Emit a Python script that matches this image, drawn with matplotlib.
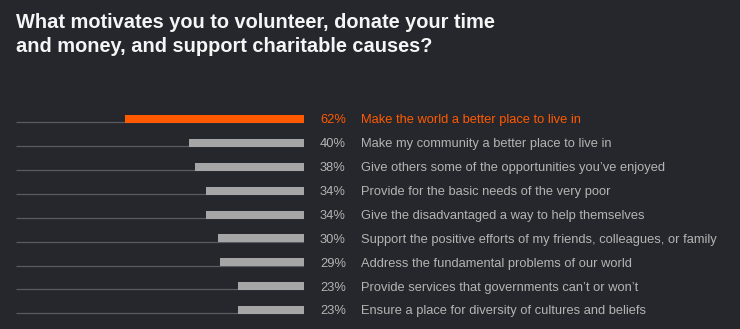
import matplotlib
matplotlib.use("Agg")
import matplotlib.pyplot as plt
import matplotlib.transforms as mtransforms

# Data
labels = [
    "Make the world a better place to live in",
    "Make my community a better place to live in",
    "Give others some of the opportunities you\u2019ve enjoyed",
    "Provide for the basic needs of the very poor",
    "Give the disadvantaged a way to help themselves",
    "Support the positive efforts of my friends, colleagues, or family",
    "Address the fundamental problems of our world",
    "Provide services that governments can\u2019t or won\u2019t",
    "Ensure a place for diversity of cultures and beliefs",
]
values = [62, 40, 38, 34, 34, 30, 29, 23, 23]
title = "What motivates you to volunteer, donate your time\nand money, and support charitable causes?"

BG = "#26272c"
ORANGE = "#ff5a00"
GRAY_BAR = "#a6a6a6"
GRAY_TEXT = "#b4b4b4"
LINE = "#5a5b60"

W, H = 740, 329
fig = plt.figure(figsize=(W / 100, H / 100), dpi=100, facecolor=BG)

# axes placed in pixel terms: x 16..304, y 107..322 (top-down)
ax = fig.add_axes([16 / W, 1 - 322 / H, (304 - 16) / W, 215 / H])
ax.set_facecolor(BG)
ax.set_xlim(100, 0)
ax.set_ylim(len(values) - 0.5, -0.5)
ax.axis("off")

row_px = 215 / len(values)
bar_h = 8 / row_px
base_off = 4.4 / row_px  # text baseline below row centre
tr = mtransforms.blended_transform_factory(fig.transFigure, ax.transData)

for i, (lab, v) in enumerate(zip(labels, values)):
    c = ORANGE if i == 0 else GRAY_BAR
    tc = ORANGE if i == 0 else GRAY_TEXT
    ax.plot([100, 0], [i + bar_h / 2 - 0.03, i + bar_h / 2 - 0.03], color=LINE,
            lw=0.9, zorder=1, solid_capstyle="butt")
    ax.barh(i, v, height=bar_h, left=0, color=c, zorder=2)
    ax.text(320 / W, i + base_off, f"{v}%", transform=tr, color=tc, fontsize=9.3,
            family="Liberation Sans", va="baseline", ha="left")
    ax.text(361 / W, i + base_off, lab, transform=tr, color=tc, fontsize=9.3,
            family="Liberation Sans", va="baseline", ha="left")

fig.text(16 / W, 1 - 13 / H, title, color="#f5f5f5", fontsize=14.4,
         fontweight="bold", family="Liberation Sans", va="top", ha="left",
         linespacing=1.34)

fig.savefig("out.png", dpi=100, facecolor=BG)
